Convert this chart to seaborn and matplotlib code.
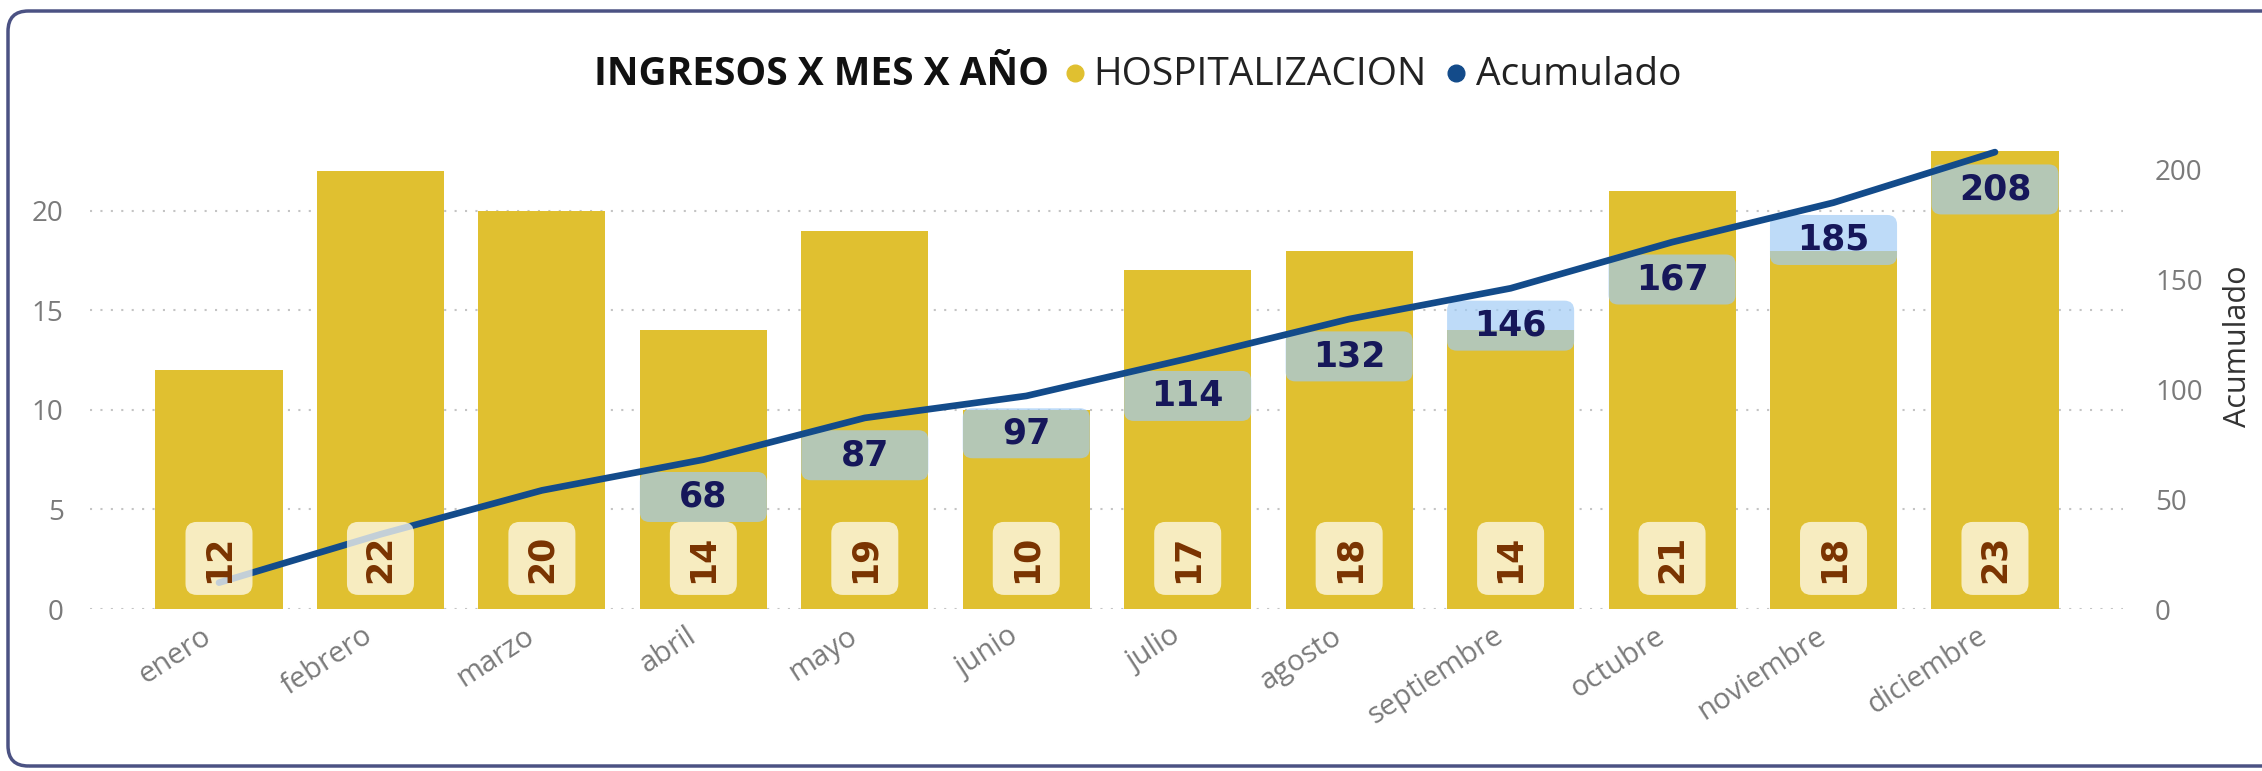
import numpy as np
import pandas as pd
import matplotlib.pyplot as plt
import matplotlib.transforms as mtrans
import seaborn as sns
from matplotlib.patches import FancyBboxPatch
from matplotlib.lines import Line2D

meses = ["enero", "febrero", "marzo", "abril", "mayo", "junio", "julio",
         "agosto", "septiembre", "octubre", "noviembre", "diciembre"]
hospitalizacion = [12, 22, 20, 14, 19, 10, 17, 18, 14, 21, 18, 23]
acumulado = [12, 34, 54, 68, 87, 97, 114, 132, 146, 167, 185, 208]
ticks_izq = [0, 5, 10, 15, 20]
ticks_der = [0, 50, 100, 150, 200]

amarillo = "#E0C030"
azul = "#134B8A"
gris = "#7A7A7A"

sns.set_style("white")
plt.rcParams["font.family"] = ["Open Sans", "DejaVu Sans"]

df = pd.DataFrame({"mes": meses, "hosp": hospitalizacion, "acum": acumulado})

W, H = 2262, 771
fig = plt.figure(figsize=(W / 100, H / 100), dpi=100)
ax = fig.add_axes([90 / W, 162 / H, 2033 / W, 466 / H])

sns.barplot(data=df, x="mes", y="hosp", color=amarillo, saturation=1,
            width=0.787, linewidth=0, ax=ax, zorder=2)

ax2 = ax.twinx()
sns.lineplot(data=df, x="mes", y="acum", color=azul, lw=4.8, sort=False,
             solid_capstyle="round", solid_joinstyle="round", ax=ax2, zorder=3)
ax2.patch.set_visible(False)

ax.set_xlim(-0.799, 11.793)
ax.set_ylim(0, 23.4)
ax2.set_ylim(0, 23.4 * 19.9 / 2.195)
ax.set_yticks(ticks_izq)
ax2.set_yticks(ticks_der)

ax.yaxis.grid(True, color="#c4c4c4", linestyle=(0, (1, 4)), linewidth=1.5)
ax.set_axisbelow(True)
for a in (ax, ax2):
    for s in a.spines.values():
        s.set_visible(False)
    a.set_xlabel("")

ax.set_ylabel("")
ax.tick_params(axis="y", labelsize=20, labelcolor=gris, length=0, pad=19)
ax.tick_params(axis="x", labelsize=21, labelcolor=gris, length=0, pad=9)
ax2.tick_params(axis="y", labelsize=20, labelcolor=gris, length=0, pad=23)
ax2.set_ylabel("Acumulado", fontsize=22, color="#333333", va="center")
ax2.yaxis.set_label_coords(1.0566, 0.564)

fig.canvas.draw()
desplaza = mtrans.ScaledTranslation(-18 / 100, 0, fig.dpi_scale_trans)
for lab in ax.get_xticklabels():
    lab.set_rotation(33)
    lab.set_ha("right")
    lab.set_rotation_mode("anchor")
    lab.set_transform(lab.get_transform() + desplaza)

# escala en pixeles para cajas redondeadas en coordenadas de datos
px_x = ax.transData.transform((1, 0))[0] - ax.transData.transform((0, 0))[0]
px_izq = ax.transData.transform((0, 1))[1] - ax.transData.transform((0, 0))[1]
px_der = ax2.transData.transform((0, 1))[1] - ax2.transData.transform((0, 0))[1]

# etiquetas de las barras (abajo, giradas)
for p, v in zip(ax.patches, hospitalizacion):
    xc = p.get_x() + p.get_width() / 2
    ancho_c, alto_c = 67 / px_x, 73 / px_izq
    caja = FancyBboxPatch((xc - ancho_c / 2, 2.54 - alto_c / 2), ancho_c, alto_c,
                          boxstyle="round,pad=0,rounding_size=0.07",
                          mutation_aspect=px_x / px_izq, fc="#FFFCF2",
                          ec="none", alpha=0.75, transform=ax.transData,
                          zorder=6)
    ax2.add_patch(caja)
    ax2.text(xc, 2.54, str(v), transform=ax.transData, rotation=90,
             ha="center", va="center", fontsize=25, fontweight="bold",
             family="DejaVu Sans", color="#7A3300", zorder=7)

# etiquetas del acumulado (Power BI oculta las tres primeras)
alto = 50 / px_der
for i, (p, v) in enumerate(zip(ax.patches, acumulado)):
    if i < 3:
        continue
    yc = v - 17
    caja = FancyBboxPatch((p.get_x(), yc - alto / 2), p.get_width(), alto,
                          boxstyle="round,pad=0,rounding_size=0.06",
                          mutation_aspect=px_x / px_der, fc="#9FCBF6",
                          ec="none", alpha=0.68, zorder=2.5)
    ax2.add_patch(caja)
    ax2.text(p.get_x() + p.get_width() / 2, yc, str(v), ha="center",
             va="center", fontsize=25, fontweight="bold",
             family="DejaVu Sans", color="#16175A", zorder=7)

# titulo + leyenda en una sola linea
r = fig.canvas.get_renderer()
y_base = 1 - 85 / H
y_dot = 1 - 73 / H
t1 = fig.text(0, y_base, "INGRESOS X MES X AÑO", fontsize=28,
              fontweight="bold", color="#111111", va="baseline")
t2 = fig.text(0, y_base, "HOSPITALIZACION", fontsize=28, color="#222222",
              va="baseline")
t3 = fig.text(0, y_base, "Acumulado", fontsize=28, color="#222222",
              va="baseline")
w1, w2, w3 = [t.get_window_extent(r).width for t in (t1, t2, t3)]
total = w1 + 26 + 18 + w2 + 30 + 20 + w3
x = 1138 - total / 2
t1.set_x(x / W)
x += w1 + 26
fig.add_artist(Line2D([x / W], [y_dot], marker="o", ms=12, color=amarillo,
                      transform=fig.transFigure))
x += 18
t2.set_x(x / W)
x += w2 + 30
fig.add_artist(Line2D([x / W], [y_dot], marker="o", ms=12, color=azul,
                      transform=fig.transFigure))
x += 20
t3.set_x(x / W)

# marco redondeado
marco = FancyBboxPatch((8 / W, 5 / H), 1.2, 755 / H,
                       boxstyle="round,pad=0,rounding_size=0.009",
                       mutation_aspect=W / H, fill=False, ec="#4B5283",
                       lw=2.5, transform=fig.transFigure)
fig.add_artist(marco)

fig.savefig("out.png", dpi=100)
